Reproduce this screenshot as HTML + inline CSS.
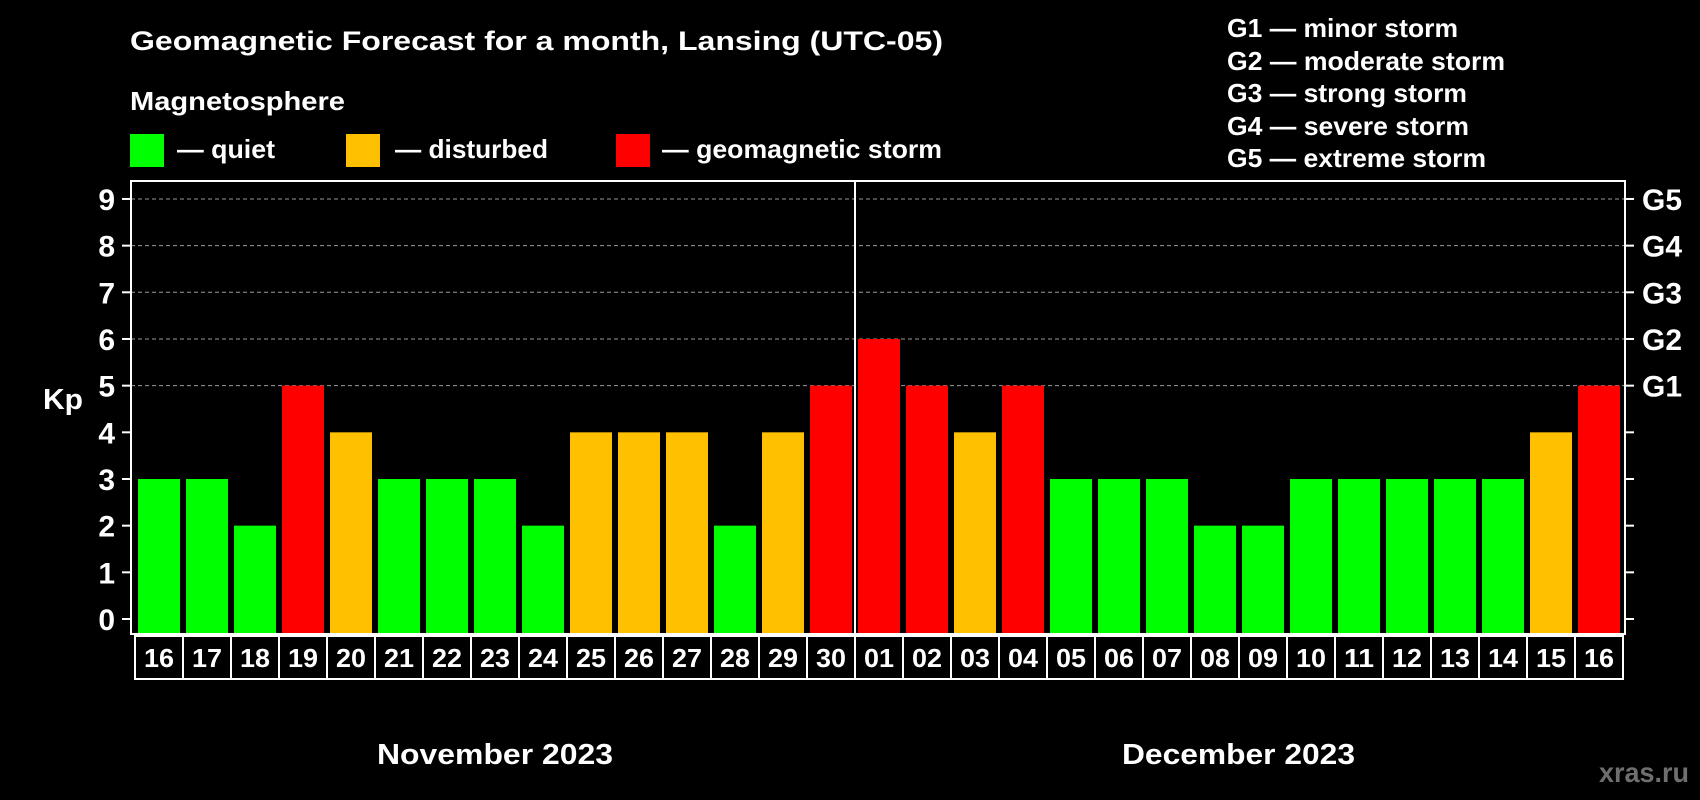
<!DOCTYPE html>
<html><head><meta charset="utf-8"><style>
html,body{margin:0;padding:0;background:#000;}
svg{display:block;font-family:"Liberation Sans",Arial,sans-serif;font-weight:bold;}
</style></head><body>
<svg id="chart" width="1700" height="800" viewBox="0 0 1700 800">
<text x="130" y="50" fill="#fff" font-size="27" textLength="813" lengthAdjust="spacingAndGlyphs">Geomagnetic Forecast for a month, Lansing (UTC-05)</text>
<text x="130" y="110" fill="#fff" font-size="26" textLength="215" lengthAdjust="spacingAndGlyphs">Magnetosphere</text>
<rect x="130" y="134" width="34" height="33" fill="#00ff00"/>
<text x="177" y="158" fill="#fff" font-size="26" textLength="98" lengthAdjust="spacingAndGlyphs">— quiet</text>
<rect x="346" y="134" width="34" height="33" fill="#ffc000"/>
<text x="395" y="158" fill="#fff" font-size="26" textLength="153" lengthAdjust="spacingAndGlyphs">— disturbed</text>
<rect x="616" y="134" width="34" height="33" fill="#ff0000"/>
<text x="662" y="158" fill="#fff" font-size="26" textLength="280" lengthAdjust="spacingAndGlyphs">— geomagnetic storm</text>
<g font-size="26" fill="#fff">
<text x="1227" y="37" textLength="231" lengthAdjust="spacingAndGlyphs">G1 — minor storm</text>
<text x="1227" y="70" textLength="278" lengthAdjust="spacingAndGlyphs">G2 — moderate storm</text>
<text x="1227" y="102" textLength="240" lengthAdjust="spacingAndGlyphs">G3 — strong storm</text>
<text x="1227" y="135" textLength="242" lengthAdjust="spacingAndGlyphs">G4 — severe storm</text>
<text x="1227" y="167" textLength="259" lengthAdjust="spacingAndGlyphs">G5 — extreme storm</text>
</g>
<text x="43" y="409" fill="#fff" font-size="29" textLength="40" lengthAdjust="spacingAndGlyphs">Kp</text>
<g id="grid"></g><g id="bars"></g><g id="axes"></g><g id="days"></g>
<text x="377" y="764" fill="#fff" font-size="29" textLength="236" lengthAdjust="spacingAndGlyphs">November 2023</text>
<text x="1122" y="764" fill="#fff" font-size="29" textLength="233" lengthAdjust="spacingAndGlyphs">December 2023</text>
<text x="1599" y="782" fill="#6f6f6f" font-size="28" textLength="90" lengthAdjust="spacingAndGlyphs">xras.ru</text>
</svg>
<script>
const days=["16","17","18","19","20","21","22","23","24","25","26","27","28","29","30","01","02","03","04","05","06","07","08","09","10","11","12","13","14","15","16"];
const kpValues=[3,3,2,5,4,3,3,3,2,4,4,4,2,4,5,6,5,4,5,3,3,3,2,2,3,3,3,3,3,4,5];
const yTicks=[0,1,2,3,4,5,6,7,8,9];
const gLabels=["G1","G2","G3","G4","G5"];
const NS="http://www.w3.org/2000/svg";
const L=131,R=1625,T=181,B=634,x0=135,pitch=48;
function y(v){return 619-v*46.67;}
function x(i){return x0+i*pitch;}
function mk(tag,attrs,parent){const e=document.createElementNS(NS,tag);for(const k in attrs)e.setAttribute(k,attrs[k]);document.getElementById(parent).appendChild(e);return e;}
function color(v){return v>=5?"#ff0000":(v>=4?"#ffc000":"#00ff00");}
yTicks.forEach(v=>{
 if(v>=5){const g=mk("line",{x1:L,x2:R,y1:y(v),y2:y(v),stroke:"#999","stroke-width":1,"stroke-dasharray":"4,3"},"grid");
 
 }
 const t1=mk("line",{x1:122,x2:L,y1:y(v),y2:y(v),stroke:"#fff","stroke-width":2},"axes");
 
 
 const t2=mk("line",{x1:R,x2:1634,y1:y(v),y2:y(v),stroke:"#fff","stroke-width":2},"axes");
 
 
 const lb=mk("text",{x:115,y:y(v)+11,fill:"#fff","font-size":30,"text-anchor":"end"},"axes");lb.textContent=v;
 
 
});
gLabels.forEach((g,i)=>{
 const t=mk("text",{x:1642,y:y(5+i)+11,fill:"#fff","font-size":30,textLength:40,lengthAdjust:"spacingAndGlyphs"},"axes");t.textContent=g;
 
 
});
kpValues.forEach((v,i)=>{
 const b=mk("rect",{x:x(i)+3,y:y(v),width:42,height:B-y(v),fill:color(v)},"bars");
 
 
});
const frame=mk("rect",{x:L,y:T,width:R-L,height:B-T,fill:"none",stroke:"#fff","stroke-width":2},"axes");


const div=mk("line",{x1:x(15),x2:x(15),y1:T,y2:B,stroke:"#fff","stroke-width":2},"axes");


days.forEach((d,i)=>{
 const c=mk("rect",{x:x(i),y:636,width:pitch,height:43,fill:"none",stroke:"#fff","stroke-width":2},"days");
 
 
 const t=mk("text",{x:x(i)+pitch/2,y:667,fill:"#fff","font-size":26,"text-anchor":"middle",textLength:30,lengthAdjust:"spacingAndGlyphs"},"days");t.textContent=d;
 
 
});
</script>
</body></html>
